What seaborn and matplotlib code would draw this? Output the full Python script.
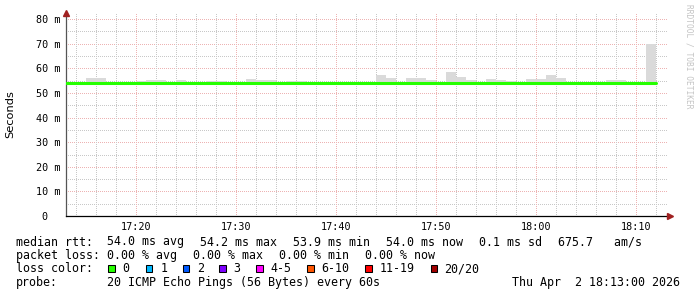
import numpy as np
import pandas as pd
import seaborn as sns
import matplotlib
matplotlib.use("Agg")
import matplotlib.pyplot as plt
from matplotlib.patches import Rectangle
from matplotlib.ticker import FixedLocator

# ---------------- data ----------------
start_minute = 13  # 17:13, minutes after 17:00
median_ms = [54.0, 54.0, 54.0, 54.0, 54.0, 54.0, 54.0, 53.9, 53.9, 54.0,
             54.0, 54.0, 54.0, 54.0, 54.0, 54.0, 54.0, 54.0, 54.1, 54.1,
             54.0, 54.0, 54.1, 54.0, 54.0, 54.0, 54.0, 54.0, 54.0, 54.0,
             54.0, 54.0, 54.0, 54.0, 54.0, 54.0, 54.0, 54.0, 54.1, 54.0,
             54.0, 54.0, 54.0, 54.0, 54.0, 54.0, 54.0, 54.0, 54.1, 54.0,
             54.0, 54.0, 54.0, 54.0, 54.0, 54.0, 54.0, 54.0, 54.0]
smoke_max_ms = [54.5, 54.5, 56.0, 56.0, 54.5, 54.5, 54.5, 55.0, 55.2, 55.2,
                54.5, 55.2, 54.5, 54.5, 54.8, 54.8, 54.5, 54.5, 55.6, 55.2,
                55.2, 54.5, 54.8, 55.0, 54.5, 54.5, 54.5, 54.5, 54.5, 54.5,
                54.5, 57.2, 56.0, 54.5, 56.0, 56.0, 55.2, 54.5, 58.4, 56.4,
                55.2, 54.5, 55.6, 55.2, 54.8, 54.5, 55.6, 55.6, 57.2, 56.0,
                54.6, 54.5, 54.5, 54.5, 55.2, 55.2, 54.5, 54.5, 70.0]

x_tick_minutes = [20, 30, 40, 50, 60, 70]
x_tick_labels = ["17:20", "17:30", "17:40", "17:50", "18:00", "18:10"]
y_tick_values = [0, 10, 20, 30, 40, 50, 60, 70, 80]
y_tick_labels = ["0  ", "10 m", "20 m", "30 m", "40 m", "50 m", "60 m", "70 m", "80 m"]

loss_labels = ["0", "1", "2", "3", "4-5", "6-10", "11-19", "20/20"]
loss_colors = ["#26ff00", "#00b8ff", "#0059ff", "#7e00ff", "#ff00ff",
               "#ff5500", "#ff0000", "#a10000"]

rtt_title = "median rtt:"
rtt_fields = ["54.0 ms avg", "54.2 ms max", "53.9 ms min", "54.0 ms now",
              "0.1 ms sd", "675.7   am/s"]
loss_title = "packet loss:"
loss_fields = ["0.00 % avg", "0.00 % max", "0.00 % min", "0.00 % now"]
color_title = "loss color:"
probe_title = "probe:"
probe_text = "20 ICMP Echo Pings (56 Bytes) every 60s"
date_text = "Thu Apr  2 18:13:00 2026"

# ---------------- figure ----------------
sns.set_theme(style="white")
plt.rcParams["font.family"] = ["DejaVu Sans Mono", "DejaVu Sans"]

W, H = 697, 297
fig = plt.figure(figsize=(W / 100, H / 100), dpi=100)
fig.patch.set_facecolor("white")

def fx(px):
    return px / W

def fy(py):
    return 1 - py / H

ax_left, ax_right, ax_top, ax_bot = 66.0, 668.0, 13.0, 216.0
ax = fig.add_axes([fx(ax_left), fy(ax_bot), (ax_right - ax_left) / W, (ax_bot - ax_top) / H])
ax.set_facecolor("white")

minutes = np.arange(start_minute, start_minute + len(median_ms))
df = pd.DataFrame({"minute": minutes, "median": median_ms, "smax": smoke_max_ms})

# smoke
ax.bar(df["minute"], df["smax"] - df["median"], bottom=df["median"], width=1.0,
       align="edge", color="#dadada", linewidth=0, zorder=2)

# median line (step)
line_df = pd.DataFrame({"minute": np.append(minutes, minutes[-1] + 1),
                        "median": np.append(median_ms, median_ms[-1])})
sns.lineplot(data=line_df, x="minute", y="median", ax=ax, color="#26ff00",
             linewidth=2.2, drawstyle="steps-post", estimator=None, zorder=3)

xmax = start_minute + (ax_right - ax_left) / 10.0
ax.set_xlim(start_minute, xmax)
ax.set_ylim(0, (ax_bot - ax_top) / 2.46)

# grid (rrdtool-like dotted lines, dash pattern aligned to pixels)
dot = (0.5, (1, 1))
glw = 0.72
for v in np.arange(5, 81, 10):
    ax.axhline(v, color="#c8c8c8", lw=glw, ls=dot, zorder=1)
for v in np.arange(10, 81, 10):
    ax.axhline(v, color="#edb3b3", lw=glw, ls=dot, zorder=1)
for m in np.arange(14, 73, 2):
    if m % 10 != 0:
        ax.axvline(m, color="#c8c8c8", lw=glw, ls=dot, zorder=1)
for m in x_tick_minutes:
    ax.axvline(m, color="#edb3b3", lw=glw, ls=dot, zorder=1)

ax.xaxis.set_major_locator(FixedLocator(x_tick_minutes))
ax.set_xticklabels(x_tick_labels)
ax.yaxis.set_major_locator(FixedLocator(y_tick_values))
ax.set_yticklabels(y_tick_labels)
ax.tick_params(axis="both", length=0, labelsize=7.3, colors="black")
ax.tick_params(axis="y", pad=4.2)
ax.tick_params(axis="x", pad=4.0)
ax.set_xlabel("")
ax.set_ylabel("")
ax.grid(False)

for s in ["top", "right"]:
    ax.spines[s].set_visible(False)
ax.spines["left"].set_color("#555555")
ax.spines["left"].set_linewidth(0.9)
ax.spines["bottom"].set_color("black")
ax.spines["bottom"].set_linewidth(0.9)
ax.spines["bottom"].set_bounds(start_minute, xmax + 0.15)

# arrows
ax.plot([start_minute], [1.0], marker="^", color="#a02020", markersize=4,
        transform=ax.get_xaxis_transform(), clip_on=False, zorder=5)
ax.plot([1.0025], [0], marker=">", color="#a02020", markersize=4,
        transform=ax.get_yaxis_transform(), clip_on=False, zorder=5)

# y label
fig.text(fx(10.5), fy(114), "Seconds", rotation=90, ha="center", va="center",
         fontsize=8.2, family="DejaVu Sans", color="black")

# watermark
fig.text(fx(688.5), fy(4), "RRDTOOL / TOBI OETIKER", rotation=270, ha="center",
         va="top", fontsize=5.7, color="#c4c4c4")

# legend text
fs = 8.4
def put(x, y, s):
    fig.text(fx(x), fy(y), s, ha="left", va="baseline", fontsize=fs, color="black")

y1, y2, y3, y4 = 245.5, 259.0, 272.5, 286.0
put(15.5, y1, rtt_title)
for xpos, s in zip([106.8, 199.5, 292.8, 385.5, 478.8, 557.8], rtt_fields):
    put(xpos, y1, s)
put(15.5, y2, loss_title)
for xpos, s in zip([106.8, 192.8, 278.8, 365.2], loss_fields):
    put(xpos, y2, s)
put(15.5, y3, color_title)
box_x = [108.3, 145.7, 182.7, 219.3, 256.0, 307.3, 365.3, 430.7]
text_x = [122.5, 160.2, 196.8, 233.5, 270.2, 321.5, 379.5, 444.5]
for bx, tx, lab, col in zip(box_x, text_x, loss_labels, loss_colors):
    fig.patches.append(Rectangle((fx(bx), fy(272.0)), 6.7 / W, 6.7 / H,
                                 transform=fig.transFigure, facecolor=col,
                                 edgecolor="black", linewidth=0.75))
    put(tx, y3, lab)
put(15.5, y4, probe_title)
put(106.8, y4, probe_text)
put(512.2, y4, date_text)

fig.savefig("out.png", dpi=100, facecolor="white")
